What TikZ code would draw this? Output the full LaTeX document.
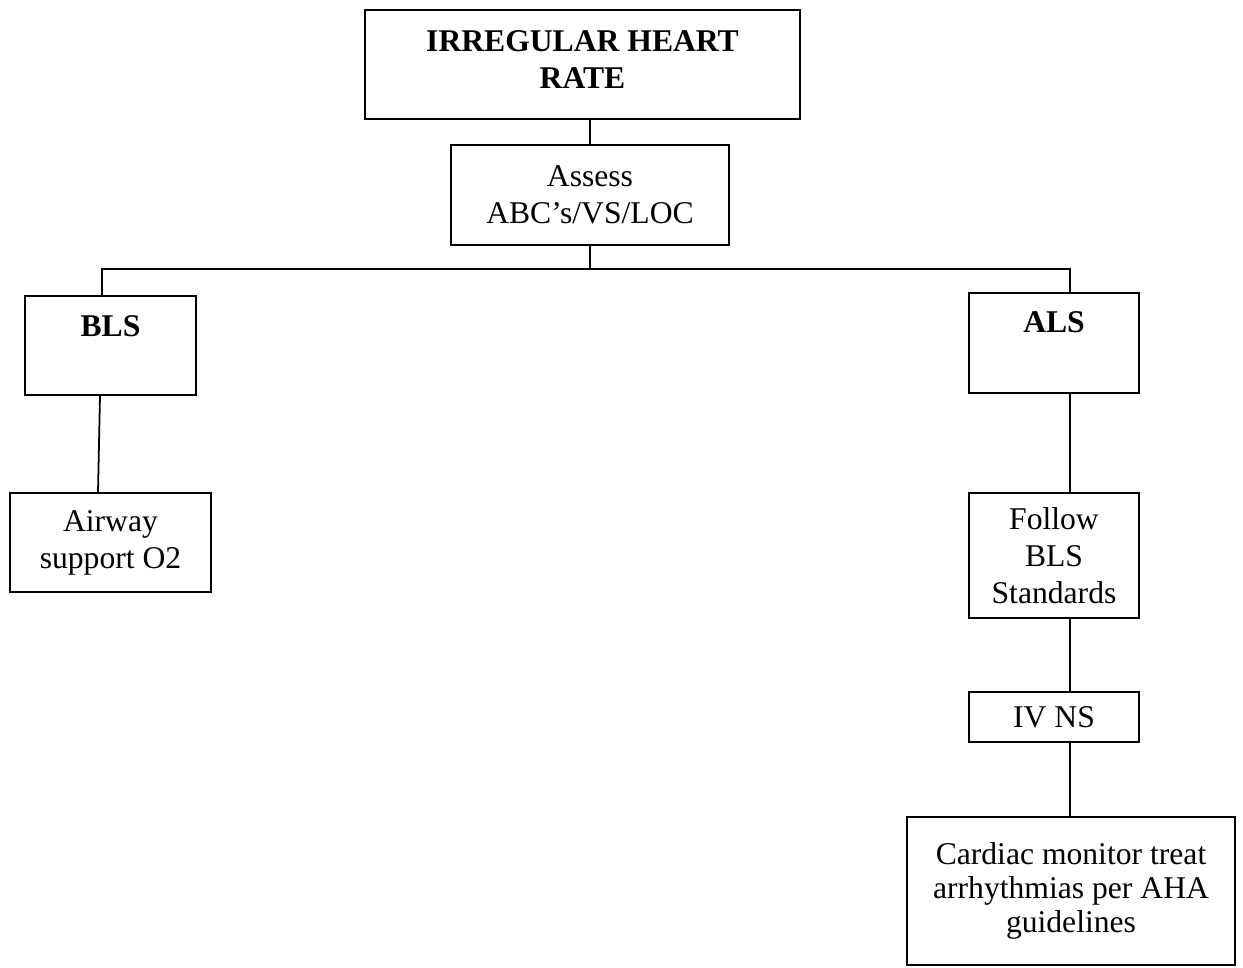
\documentclass[tikz,border=0pt]{standalone}
\usepackage{fontspec}
\setmainfont{Liberation Serif}
\usepackage{tikz}
\usetikzlibrary{positioning}

\tikzset{
  stepbox/.style={draw=black, line width=1.1pt, inner sep=0pt, align=center,
    font=\fontsize{18}{21}\selectfont},
  headbox/.style={stepbox, text depth=1.16cm},
  link/.style={draw=black, line width=1pt}
}

\begin{document}
\begin{tikzpicture}
            \useasboundingbox (0,0) rectangle (24.86,-19.34);

            % Top of the chart
            \node[stepbox, line width=1.4pt, minimum width=8.7cm, minimum height=2.18cm, text depth=0.2cm,
                  font=\fontsize{18}{21}\bfseries\selectfont] (title) at (11.65,-1.29)
                  {IRREGULAR HEART\\RATE};
            \node[stepbox, minimum width=5.56cm, minimum height=2.0cm] (assess) at (11.8,-3.9)
                  {Assess\\ABC’s/VS/LOC};

            % Branch heads
            \node[headbox, anchor=north, minimum width=3.42cm, text height=0.82cm] (bls) at (2.21,-5.9)
                  {\textbf{BLS}};
            \node[headbox, anchor=north, minimum width=3.4cm, text height=0.8cm, text depth=1.2cm] (als) at (21.08,-5.84)
                  {\textbf{ALS}};

            % Left branch
            \node[stepbox, minimum width=4.02cm, minimum height=1.98cm] (airway) at (2.21,-10.85)
                  {Airway\\support O2};

            % Right branch
            \node[stepbox, minimum width=3.4cm, minimum height=2.5cm] (follow) at (21.08,-11.11)
                  {Follow\\BLS\\Standards};
            \node[stepbox, minimum width=3.4cm, minimum height=1.0cm] (ivns) at (21.08,-14.34)
                  {IV NS};
            \node[stepbox, minimum width=6.56cm, minimum height=2.96cm,
                  font=\fontsize{18}{19.5}\selectfont] (cardiac) at (21.42,-17.82)
                  {Cardiac monitor treat\\arrhythmias per AHA\\guidelines};

            % Connectors
            \coordinate (busL) at (2.04,-5.38);
            \coordinate (busR) at (21.4,-5.38);
            \draw[link] (assess.north |- title.south) -- (assess.north);
            \draw[link] (assess.south) -- (assess.south |- busL);
            \draw[link] (bls.north -| busL) -- (busL) -- (busR) -- (als.north -| busR);
            \draw[link] ([xshift=-0.21cm]bls.south) -- ([xshift=-0.25cm]airway.north);
            \draw[link] (als.south -| busR) -- (follow.north -| busR);
            \draw[link] (follow.south -| busR) -- (ivns.north -| busR);
            \draw[link] (ivns.south -| busR) -- (cardiac.north -| busR);
        \end{tikzpicture}
\end{document}
